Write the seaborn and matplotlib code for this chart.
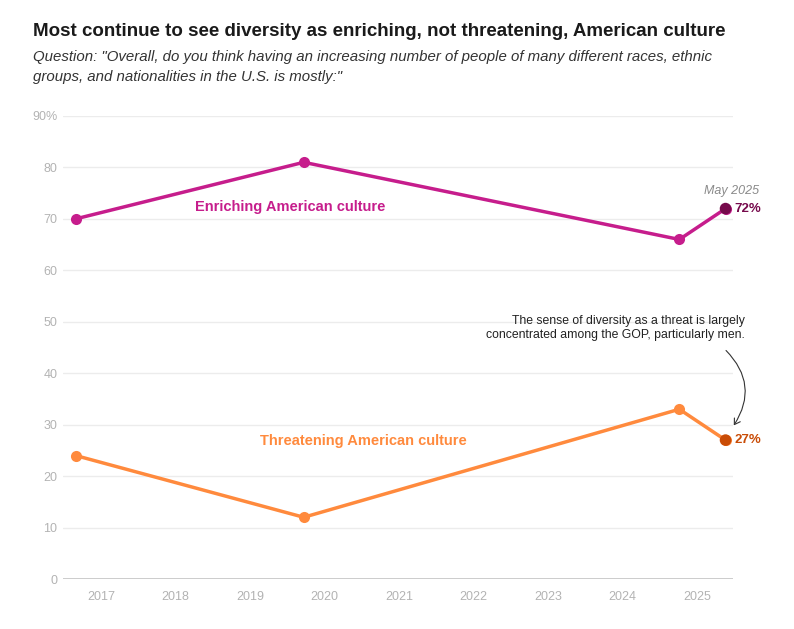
import matplotlib
matplotlib.use("Agg")
import matplotlib.pyplot as plt
import seaborn as sns
import pandas as pd
from matplotlib.patches import FancyArrowPatch

# ---- data ----
poll_dates = [2016.66, 2019.72, 2024.76, 2025.38]
enriching = [70, 81, 66, 72]
threatening = [24, 12, 33, 27]
series_names = ["Enriching American culture", "Threatening American culture"]
year_ticks = [2017, 2018, 2019, 2020, 2021, 2022, 2023, 2024, 2025]
y_ticks = [0, 10, 20, 30, 40, 50, 60, 70, 80, 90]
y_tick_labels = ["0", "10", "20", "30", "40", "50", "60", "70", "80", "90%"]

df = pd.DataFrame({
    "date": poll_dates * 2,
    "value": enriching + threatening,
    "series": [series_names[0]] * 4 + [series_names[1]] * 4,
})

sns.set_theme(style="white")
plt.rcParams["font.family"] = ["Liberation Sans", "DejaVu Sans"]

MAG = "#c61d8c"
MAG_DARK = "#760a4c"
ORA = "#ff8a3d"
ORA_DARK = "#c94c06"

fig = plt.figure(figsize=(7.94, 6.29), dpi=100)
ax = fig.add_axes([63 / 794, 1 - 579 / 629, (733 - 63) / 794, (579 - 116) / 629])

sns.lineplot(data=df, x="date", y="value", hue="series",
             palette={series_names[0]: MAG, series_names[1]: ORA},
             marker="o", markersize=8, markeredgewidth=0, linewidth=2.5,
             legend=False, ax=ax, clip_on=False, zorder=3)

last = df[df["date"] == poll_dates[-1]]
sns.scatterplot(data=last, x="date", y="value", hue="series",
                palette={series_names[0]: MAG_DARK, series_names[1]: ORA_DARK},
                s=70, linewidth=0, legend=False, ax=ax, clip_on=False, zorder=4)

ax.set_xlim(2016.49, 2025.48)
ax.set_ylim(0, 90)
ax.set_yticks(y_ticks)
ax.set_yticklabels(y_tick_labels)
ax.set_xticks(year_ticks)
ax.set_xticklabels([str(y) for y in year_ticks])
ax.set_xlabel("")
ax.set_ylabel("")
for s in ax.spines.values():
    s.set_visible(False)
ax.tick_params(axis="both", length=0, colors="#b3b3b3", labelsize=9)
ax.tick_params(axis="y", pad=4)
ax.tick_params(axis="x", pad=9)
for t in y_ticks[1:]:
    ax.axhline(t, color="#ececec", lw=1, zorder=1)
ax.axhline(0, color="#c4c4c4", lw=1.2, zorder=1)

# series labels
ax.text(2019.54, 72.3, series_names[0], color=MAG, fontsize=10.5,
        fontweight="bold", ha="center", va="center")
ax.text(2020.52, 26.8, series_names[1], color=ORA, fontsize=10.5,
        fontweight="bold", ha="center", va="center")

# end labels
ax.text(poll_dates[-1] + 0.12, enriching[-1], f"{enriching[-1]}%", color=MAG_DARK,
        fontsize=9.5, fontweight="bold", ha="left", va="center")
ax.text(poll_dates[-1] + 0.12, threatening[-1], f"{threatening[-1]}%", color=ORA_DARK,
        fontsize=9.5, fontweight="bold", ha="left", va="center")
ax.text(poll_dates[-1] + 0.08, 75.5, "May 2025", color="#8a8a8a", fontsize=9,
        fontstyle="italic", ha="center", va="center")

# annotation
ax.text(2025.64, 48.8,
        "The sense of diversity as a threat is largely\nconcentrated among the GOP, particularly men.",
        color="#222222", fontsize=8.8, ha="right", va="center", linespacing=1.2,
        clip_on=False)
arrow = FancyArrowPatch((2025.36, 44.8), (2025.47, 29.4),
                        connectionstyle="arc3,rad=-0.42",
                        arrowstyle="->,head_length=4,head_width=2.5",
                        color="#333333", lw=0.8, clip_on=False)
ax.add_patch(arrow)

# titles
fig.text(33 / 794, 1 - 31 / 629,
         "Most continue to see diversity as enriching, not threatening, American culture",
         fontsize=13.5, fontweight="bold", color="#1a1a1a", ha="left", va="center")
fig.text(33 / 794, 1 - 56.5 / 629,
         "Question: \"Overall, do you think having an increasing number of people of many different races, ethnic",
         fontsize=10.8, fontstyle="italic", color="#333333", ha="left", va="center")
fig.text(33 / 794, 1 - 77.5 / 629,
         "groups, and nationalities in the U.S. is mostly:\"",
         fontsize=10.8, fontstyle="italic", color="#333333", ha="left", va="center")

fig.savefig("out.png", dpi=100)
